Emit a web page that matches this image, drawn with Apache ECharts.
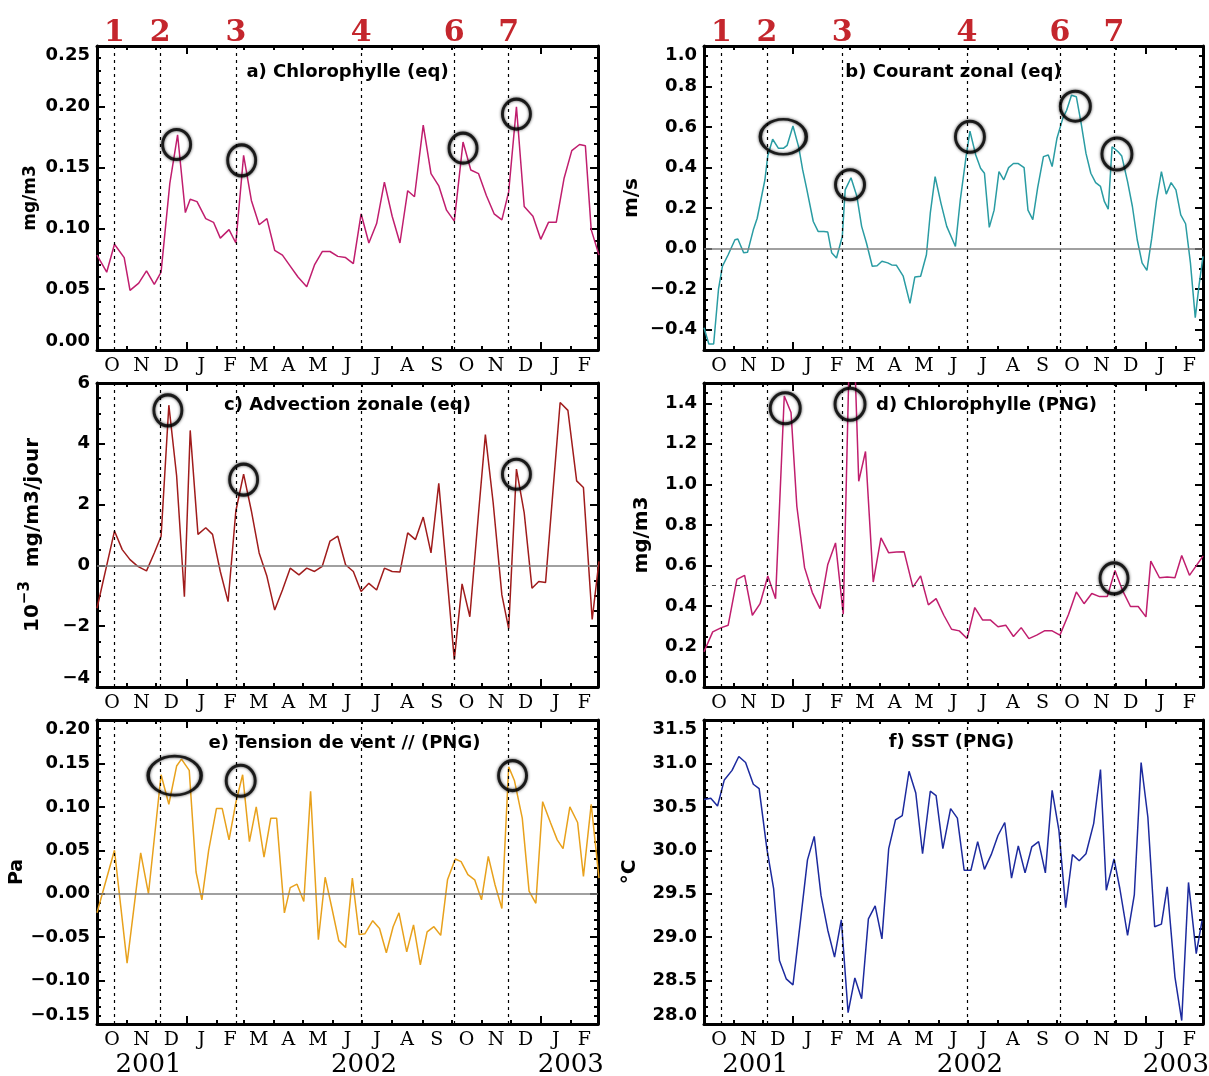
<!DOCTYPE html>
<html>
<head>
<meta charset="utf-8">
<script src="https://cdn.jsdelivr.net/npm/echarts@6/dist/echarts.min.js"></script>
<style>
html,body{margin:0;padding:0;background:#fff;}
#chart{width:1209px;height:1076px;}
</style>
</head>
<body>
<div id="chart"></div>
<script>
// ---------------- DATA ----------------
// x values: days since 2001-10-01
const monthLetters = ['O','N','D','J','F','M','A','M','J','J','A','S','O','N','D','J','F'];
const yearLabels = ['2001','2002','2003'];
const eventLabels = ['1','2','3','4','6','7'];
const eventDays = [18, 65, 143, 272, 368, 424];

// a) Chlorophylle (eq)
const chlEqTicks = ['0.00','0.05','0.10','0.15','0.20','0.25'];
const chlEqDays = [0,10,18,28,34,43,51,59,66,75,83,91,96,103,112,120,127,136,143,151,159,167,175,183,191,199,207,216,224,232,240,248,256,264,272,280,288,296,304,312,320,327,336,344,352,360,368,377,385,393,401,409,417,424,432,440,449,457,465,473,481,489,497,503,509,517];
const chlEqValues = [0.078,0.064,0.087,0.076,0.049,0.055,0.065,0.054,0.064,0.137,0.177,0.113,0.124,0.122,0.108,0.105,0.092,0.099,0.088,0.160,0.123,0.103,0.108,0.082,0.078,0.069,0.060,0.052,0.070,0.081,0.081,0.077,0.076,0.071,0.112,0.088,0.104,0.138,0.110,0.088,0.131,0.126,0.185,0.145,0.135,0.115,0.106,0.171,0.148,0.145,0.127,0.112,0.107,0.130,0.200,0.118,0.110,0.091,0.105,0.105,0.141,0.164,0.169,0.168,0.099,0.078];
const chlEqCircles = [[82,0.169],[149,0.156],[377,0.166],[432,0.194]];

// b) Courant zonal (eq)
const curTicks = ['−0.4','−0.2','0.0','0.2','0.4','0.6','0.8','1.0'];
const curDays = [0,5,10,15,19,25,32,35,41,45,51,55,63,66,71,77,82,86,92,98,102,106,113,118,124,128,132,137,143,146,152,158,163,168,174,179,184,190,194,199,206,213,218,224,230,234,239,245,251,257,260,265,271,275,281,286,290,295,300,305,310,315,320,325,331,335,340,345,351,356,360,365,371,375,380,385,390,395,400,405,410,414,418,422,428,432,438,443,448,453,458,463,468,473,478,483,488,493,498,503,508,512,516];
const curValues = [-0.39,-0.47,-0.47,-0.20,-0.087,-0.03,0.044,0.048,-0.02,-0.018,0.093,0.15,0.34,0.46,0.54,0.495,0.495,0.51,0.605,0.50,0.39,0.30,0.134,0.085,0.085,0.082,-0.02,-0.046,0.06,0.29,0.35,0.26,0.11,0.028,-0.087,-0.084,-0.062,-0.07,-0.08,-0.082,-0.136,-0.27,-0.14,-0.136,-0.03,0.175,0.355,0.225,0.11,0.044,0.011,0.24,0.454,0.58,0.462,0.397,0.372,0.105,0.19,0.38,0.34,0.40,0.42,0.42,0.40,0.19,0.143,0.30,0.454,0.462,0.405,0.545,0.643,0.683,0.757,0.75,0.618,0.47,0.372,0.326,0.307,0.233,0.195,0.503,0.479,0.457,0.331,0.208,0.044,-0.07,-0.107,0.052,0.24,0.38,0.269,0.326,0.29,0.167,0.123,-0.07,-0.34,-0.177,-0.038];
const curCircles = [[82,0.552],[151,0.315],[275,0.552],[384,0.703],[427,0.467]];

// c) Advection zonale (eq)
const advTicks = ['−4','−2','0','2','4','6'];
const advDays = [0,18,26,34,42,51,59,66,74,82,90,96,104,112,119,127,135,143,151,159,167,175,183,191,199,208,216,224,232,240,248,256,264,272,280,288,296,304,312,320,328,336,344,352,368,376,384,393,400,408,417,424,432,440,448,455,462,477,485,494,501,510,517];
const advValues = [-1.41,1.13,0.52,0.19,-0.03,-0.18,0.41,0.96,5.27,2.95,-1.03,4.44,1.02,1.24,1.02,-0.2,-1.19,1.79,3.0,1.79,0.41,-0.36,-1.47,-0.81,-0.09,-0.31,-0.09,-0.2,-0.03,0.8,0.96,0.02,-0.2,-0.86,-0.59,-0.81,-0.09,-0.2,-0.22,1.07,0.85,1.59,0.41,2.70,-3.1,-0.61,-1.69,1.73,4.3,2.07,-0.97,-2.08,3.17,1.73,-0.75,-0.53,-0.56,5.36,5.1,2.78,2.56,-1.78,0.13];
const advCircles = [[73,5.1],[151,2.82],[432,3.0]];

// d) Chlorophylle (PNG)
const chlPngTicks = ['0.0','0.2','0.4','0.6','0.8','1.0','1.2','1.4'];
const chlPngDays = [0,9,18,25,34,42,50,58,66,74,83,90,96,104,112,120,128,136,144,150,156,160,167,175,183,191,199,207,216,224,232,240,248,256,264,272,280,288,296,304,312,320,328,336,344,352,360,368,377,385,393,401,409,417,425,433,441,449,457,462,471,479,487,494,502,510,516];
const chlPngValues = [0.174,0.272,0.293,0.305,0.531,0.551,0.354,0.411,0.548,0.436,1.436,1.354,0.892,0.589,0.466,0.387,0.605,0.711,0.359,1.6,1.6,1.015,1.162,0.518,0.736,0.662,0.666,0.667,0.493,0.548,0.405,0.436,0.354,0.285,0.277,0.239,0.392,0.331,0.331,0.297,0.305,0.249,0.293,0.239,0.256,0.277,0.277,0.256,0.359,0.469,0.411,0.461,0.446,0.446,0.575,0.474,0.397,0.397,0.346,0.621,0.539,0.543,0.539,0.649,0.551,0.605,0.646];
const chlPngCircles = [[84,1.375],[151,1.395],[424,0.536]];

// e) Tension de vent // (PNG)
const tauTicks = ['−0.15','−0.10','−0.05','0.00','0.05','0.10','0.15','0.20'];
const tauDays = [0,18,31,45,53,66,74,82,87,95,102,108,115,123,129,136,143,150,157,164,172,179,185,193,199,206,213,220,228,235,242,249,256,263,270,276,284,291,298,305,311,319,326,333,340,347,354,361,369,375,382,389,396,403,410,417,424,430,438,445,452,459,467,474,480,487,495,501,509,517];
const tauValues = [-0.022,0.05,-0.08,0.047,0.0,0.137,0.103,0.147,0.155,0.142,0.025,-0.007,0.05,0.098,0.098,0.062,0.105,0.137,0.06,0.1,0.042,0.087,0.087,-0.022,0.007,0.011,-0.009,0.118,-0.053,0.019,-0.017,-0.054,-0.062,0.018,-0.047,-0.046,-0.031,-0.04,-0.068,-0.038,-0.022,-0.067,-0.036,-0.082,-0.044,-0.038,-0.048,0.016,0.04,0.037,0.022,0.016,-0.007,0.043,0.01,-0.017,0.146,0.13,0.087,0.003,-0.011,0.106,0.082,0.062,0.052,0.1,0.082,0.02,0.103,0.018];
const tauCircles = [[80,0.136],[148,0.130],[428,0.136]];

// f) SST (PNG)
const sstTicks = ['28.0','28.5','29.0','29.5','30.0','30.5','31.0','31.5'];
const sstDays = [0,7,14,21,29,36,43,51,57,65,72,78,85,92,100,107,114,121,128,135,142,149,156,163,170,177,184,191,198,205,212,219,226,234,240,247,255,262,269,276,283,290,297,304,311,318,325,332,339,346,353,360,367,374,381,388,395,403,410,416,424,430,438,445,452,459,466,473,479,487,494,501,509,515];
const sstValues = [30.585,30.6,30.51,30.81,30.92,31.08,31.01,30.76,30.71,30.02,29.56,28.73,28.52,28.45,29.21,29.89,30.16,29.48,29.08,28.77,29.2,28.13,28.53,28.29,29.21,29.36,28.98,30.02,30.35,30.40,30.91,30.66,29.96,30.68,30.63,30.02,30.48,30.37,29.77,29.77,30.10,29.78,29.95,30.17,30.32,29.68,30.05,29.74,30.04,30.10,29.74,30.69,30.23,29.34,29.95,29.88,29.96,30.31,30.93,29.54,29.9,29.56,29.02,29.49,31.01,30.38,29.12,29.15,29.58,28.54,28.04,29.63,28.81,29.19];

// ---------------- LAYOUT / STYLE ----------------
const panels = [
  {title:'a) Chlorophylle (eq)', name:'mg/m3', nameSize:17, days:chlEqDays, values:chlEqValues, ticks:chlEqTicks, range:[0,0.25], minor:0.01,
   circles:chlEqCircles, circleSize:[[28,30],[28,31],[28,30],[28,30]], ref:null, color:'#c01e6e',
   grid:{left:97,top:46,width:501,height:304}, nameGap:58, titleDx:0, titleDy:26, vMin:'bottom', vMax:'top', top:true},
  {title:'b) Courant zonal (eq)', name:'m/s', nameSize:20, days:curDays, values:curValues, ticks:curTicks, range:[-0.5,1.0], minor:0.05,
   circles:curCircles, circleSize:[[46,35],[29,30],[29,31],[30,30],[30,32]], ref:{y:0,type:'solid'}, color:'#2a9ca3',
   grid:{left:704,top:46,width:499,height:304}, nameGap:62, titleDx:0, titleDy:26, vMin:null, vMax:'top', top:true},
  {title:'c) Advection zonale (eq)', name:'10{sup|−3}  mg/m3/jour', nameSize:20, days:advDays, values:advValues, ticks:advTicks, range:[-4,6], minor:0.5,
   circles:advCircles, circleSize:[[28,31],[28,31],[28,30]], ref:{y:0,type:'solid'}, color:'#a01c1c',
   grid:{left:97,top:383,width:501,height:304}, nameGap:50, titleDx:0, titleDy:22, vMin:'bottom', vMax:null},
  {title:'d) Chlorophylle (PNG)', name:'mg/m3', nameSize:20, days:chlPngDays, values:chlPngValues, ticks:chlPngTicks, range:[0,1.5], minor:0.05,
   circles:chlPngCircles, circleSize:[[30,31],[30,32],[28,31]], ref:{y:0.5,type:'dashed'}, color:'#c01e6e',
   grid:{left:704,top:383,width:499,height:304}, nameGap:52, titleDx:33, titleDy:22, vMin:'bottom', vMax:null},
  {title:'e) Tension de vent // (PNG)', name:'Pa', nameSize:19, days:tauDays, values:tauValues, ticks:tauTicks, range:[-0.15,0.20], minor:0.01,
   circles:tauCircles, circleSize:[[53,39],[29,31],[28,30]], ref:{y:0,type:'solid'}, color:'#e8a11c',
   grid:{left:97,top:720,width:501,height:304}, nameGap:67, titleDx:-3, titleDy:23, vMin:'bottom', vMax:'top', years:true},
  {title:'f) SST (PNG)', name:'°C', nameSize:20, days:sstDays, values:sstValues, ticks:sstTicks, range:[28,31.5], minor:0.1,
   circles:[], circleSize:[], ref:null, color:'#1c2a9e',
   grid:{left:704,top:720,width:499,height:304}, nameGap:64, titleDx:-2, titleDy:22, vMin:'bottom', vMax:'top', years:true}
];
const yearPos = [53, 275, 488];

// ---------------- CALENDAR ----------------
const DAY0 = Date.UTC(2001, 9, 1);
const monthStarts = [];
for (let k = 0; k <= monthLetters.length; k++) monthStarts.push(Math.round((Date.UTC(2001, 9 + k, 1) - DAY0) / 864e5));
const X_MAX = monthStarts[monthStarts.length - 1];
const midMonths = monthLetters.map((_, k) => (monthStarts[k] + monthStarts[k + 1]) / 2);
const janStarts = monthStarts.filter((d, k) => (9 + k) % 12 === 0);
const otherStarts = monthStarts.filter((d, k) => (9 + k) % 12 !== 0 && k > 0 && k < monthLetters.length);

const num = s => parseFloat(String(s).replace('−', '-'));

const SANS = 'DejaVu Sans';
const SERIF = 'DejaVu Serif';
const BLACK = '#000';

const grids = [], xAxes = [], yAxes = [], series = [], graphics = [];

panels.forEach((p, g) => {
  grids.push(Object.assign({containLabel:false, outerBoundsMode:'none'}, p.grid));
  const xBase = {gridIndex:g, type:'value', min:0, max:X_MAX, splitLine:{show:false}};
  xAxes.push(Object.assign({}, xBase, {
    position:'bottom',
    axisLine:{show:true, onZero:false, lineStyle:{color:BLACK, width:3}},
    axisTick:{show:true, inside:true, length:4, customValues:otherStarts, lineStyle:{color:BLACK, width:2}},
    axisLabel:{show:true, customValues:midMonths, margin:7, color:BLACK, fontFamily:SERIF, fontSize:19,
      formatter: v => monthLetters[midMonths.findIndex(m => Math.abs(m - v) < 1e-6)] || ''}
  }));
  xAxes.push(Object.assign({}, xBase, {
    position:'bottom', axisLine:{show:false, onZero:false},
    axisTick:{show:true, inside:true, length:8, customValues:janStarts, lineStyle:{color:BLACK, width:2}},
    axisLabel:{show:false}
  }));
  xAxes.push(Object.assign({}, xBase, {
    position:'top',
    axisLine:{show:true, onZero:false, lineStyle:{color:BLACK, width:3}},
    axisTick:{show:true, inside:true, length:4, customValues:otherStarts, lineStyle:{color:BLACK, width:2}},
    axisLabel:{show:false}
  }));
  xAxes.push(Object.assign({}, xBase, {
    position:'top', axisLine:{show:false, onZero:false},
    axisTick:{show:true, inside:true, length:8, customValues:janStarts, lineStyle:{color:BLACK, width:2}},
    axisLabel:{show:false}
  }));

  const majors = p.ticks.map(num);
  const minors = [];
  const nMin = Math.round((p.range[1] - p.range[0]) / p.minor);
  for (let k = 0; k <= nMin; k++) minors.push(+(p.range[0] + k * p.minor).toFixed(4));
  const yBase = {gridIndex:g, type:'value', min:p.range[0], max:p.range[1], splitLine:{show:false}};
  const labelStyle = {show:true, customValues:majors, margin:7, color:BLACK, fontFamily:SANS, fontWeight:'bold', fontSize:18,
    formatter: v => p.ticks[majors.findIndex(m => Math.abs(m - v) < 1e-9)] || ''};
  if (p.vMin) labelStyle.verticalAlignMinLabel = p.vMin;
  if (p.vMax) labelStyle.verticalAlignMaxLabel = p.vMax;
  yAxes.push(Object.assign({}, yBase, {
    position:'left',
    axisLine:{show:true, onZero:false, lineStyle:{color:BLACK, width:3}},
    axisTick:{show:true, inside:true, length:8, customValues:majors, lineStyle:{color:BLACK, width:2}},
    axisLabel:labelStyle,
    name:p.name, nameLocation:'middle', nameRotate:90, nameGap:p.nameGap,
    nameTextStyle:{color:BLACK, fontFamily:SANS, fontWeight:'bold', fontSize:p.nameSize,
      rich:{sup:{fontFamily:SANS, fontWeight:'bold', fontSize:15, color:BLACK, padding:[0,0,14,0]}}}
  }));
  yAxes.push(Object.assign({}, yBase, {
    position:'left', axisLine:{show:false, onZero:false},
    axisTick:{show:true, inside:true, length:4, customValues:minors, lineStyle:{color:BLACK, width:2}},
    axisLabel:{show:false}
  }));
  yAxes.push(Object.assign({}, yBase, {
    position:'right',
    axisLine:{show:true, onZero:false, lineStyle:{color:BLACK, width:3}},
    axisTick:{show:true, inside:true, length:8, customValues:majors, lineStyle:{color:BLACK, width:2}},
    axisLabel:{show:false}
  }));
  yAxes.push(Object.assign({}, yBase, {
    position:'right', axisLine:{show:false, onZero:false},
    axisTick:{show:true, inside:true, length:4, customValues:minors, lineStyle:{color:BLACK, width:2}},
    axisLabel:{show:false}
  }));

  const mlData = eventDays.map((d, i) => ({
    xAxis:d,
    lineStyle:{type:[3,4], color:BLACK, width:1.2},
    label: p.top ? {show:true, position:'end', formatter:eventLabels[i], distance:-2,
      color:'#c4262d', fontFamily:SERIF, fontWeight:'bold', fontSize:30} : {show:false}
  }));
  if (p.ref) mlData.push({
    yAxis:p.ref.y,
    lineStyle: p.ref.type === 'solid' ? {type:'solid', color:'#808080', width:1.5} : {type:[4,4], color:'#444', width:1},
    label:{show:false}
  });

  series.push({
    type:'line', xAxisIndex:4 * g, yAxisIndex:4 * g,
    data:p.days.map((d, i) => [d, p.values[i]]),
    symbol:'none', showSymbol:false, clip:true,
    lineStyle:{color:p.color, width:1.5}, itemStyle:{color:p.color},
    z:3, animation:false,
    markLine:{silent:true, symbol:['none','none'], animation:false, data:mlData}
  });
  if (p.circles.length) {
    series.push({
      type:'scatter', xAxisIndex:4 * g, yAxisIndex:4 * g, silent:true, z:4,
      symbol:'circle',
      data:p.circles.map((c, i) => ({value:c, symbolSize:p.circleSize[i]})),
      itemStyle:{color:'rgba(0,0,0,0)', borderColor:'#000', borderWidth:3, shadowBlur:3, shadowColor:'rgba(0,0,0,0.9)'}
    });
  }

  graphics.push({
    type:'text', silent:true,
    x:p.grid.left + p.grid.width / 2 + p.titleDx, y:p.grid.top + p.titleDy,
    style:{text:p.title, fill:BLACK, font:'bold 18px "DejaVu Sans"', align:'center', verticalAlign:'middle'}
  });
});

// year axes for the bottom panels
panels.forEach((p, g) => {
  if (!p.years) return;
  xAxes.push({
    gridIndex:g, type:'value', min:0, max:X_MAX, position:'bottom',
    axisLine:{show:false, onZero:false}, axisTick:{show:false}, splitLine:{show:false},
    axisLabel:{show:true, customValues:yearPos, margin:28, color:BLACK, fontFamily:SERIF, fontSize:26,
      formatter: v => yearLabels[yearPos.indexOf(v)] || ''}
  });
});

const chart = echarts.init(document.getElementById('chart'), null, {renderer:'canvas'});
chart.setOption({
  animation:false,
  backgroundColor:'#fff',
  textStyle:{fontFamily:SANS},
  grid:grids,
  xAxis:xAxes,
  yAxis:yAxes,
  series:series,
  graphic:graphics
});
</script>
</body>
</html>
